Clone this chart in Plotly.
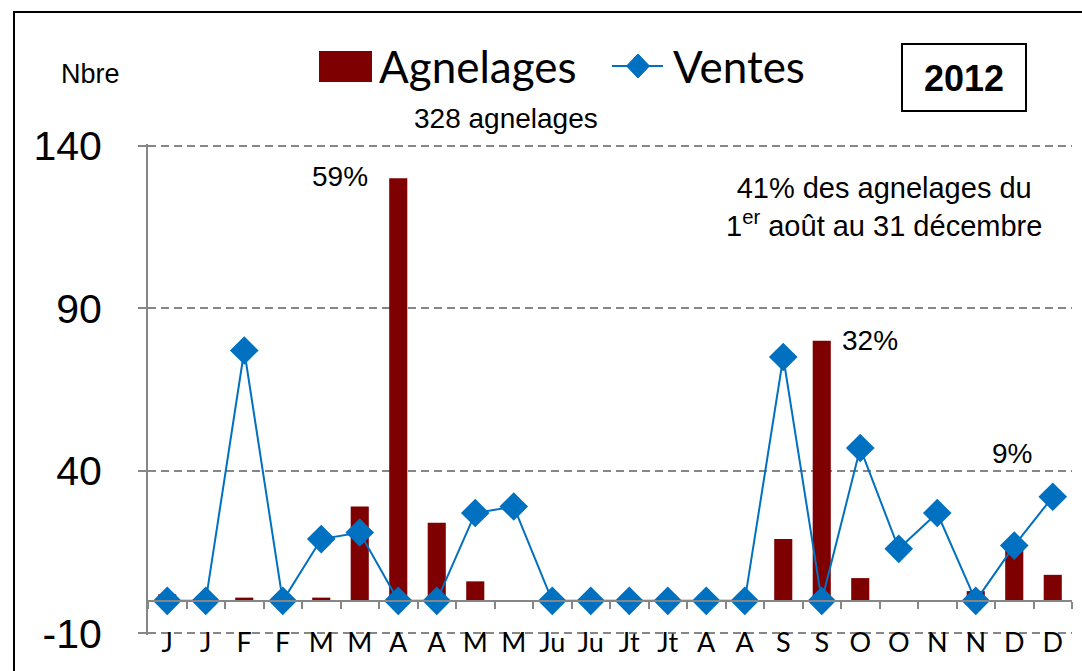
import plotly.graph_objects as go

# ---------------- data ----------------
categories = ["J1", "J2", "F1", "F2", "M1", "M2", "A1", "A2", "Ma1", "Ma2",
              "Ju1", "Ju2", "Jt1", "Jt2", "Ao1", "Ao2", "S1", "S2", "O1", "O2",
              "N1", "N2", "D1", "D2"]
tick_labels = ["J", "J", "F", "F", "M", "M", "A", "A", "M", "M", "Ju", "Ju",
               "Jt", "Jt", "A", "A", "S", "S", "O", "O", "N", "N", "D", "D"]
agnelages = [2, 0, 1, 0, 1, 29, 130, 24, 6, 0, 0, 0, 0, 0, 0, 0, 19, 80, 7, 0, 0, 3, 18, 8]
ventes = [0, 0, 77, 0, 19, 21, 0, 0, 27, 29, 0, 0, 0, 0, 0, 0, 75, 0, 47, 16, 27, 0, 17, 32]
y_ticks = [-10, 40, 90, 140]
y_tick_labels = ["-10", "40", "90", "140"]
y_range = [-10.5, 140.5]

# ---------------- layout helpers (pixel -> paper) ----------------
W, H = 1082, 671
ML, MR, MT, MB = 148, 10, 144, 36
PW, PH = W - ML - MR, H - MT - MB


def px(x):
    return (x - ML) / PW


def py(y):
    return (H - MB - y) / PH


ARIAL = "Arial, Liberation Sans, sans-serif"
CALI = "Lato, Open Sans, sans-serif"
RED = "#7F0000"
BLUE = "#0070C0"
GRAY = "#868686"

fig = go.Figure()
fig.add_trace(go.Bar(x=categories, y=agnelages, name="Agnelages",
                     marker=dict(color=RED, line=dict(width=0)), width=0.47))
fig.add_trace(go.Scatter(x=categories, y=ventes, name="Ventes", mode="lines+markers",
                         line=dict(color=BLUE, width=2),
                         marker=dict(symbol="diamond", size=22, color=BLUE)))

shapes = []
# outer frame
shapes.append(dict(type="rect", xref="paper", yref="paper",
                   x0=px(14), x1=px(1110), y0=py(700), y1=py(12),
                   line=dict(color="black", width=2), fillcolor="rgba(0,0,0,0)", layer="above"))
# 2012 box
shapes.append(dict(type="rect", xref="paper", yref="paper",
                   x0=px(902), x1=px(1026), y0=py(111), y1=py(44),
                   line=dict(color="black", width=2), fillcolor="white"))
# legend: Agnelages swatch
shapes.append(dict(type="rect", xref="paper", yref="paper",
                   x0=px(319), x1=px(372), y0=py(82), y1=py(51),
                   line=dict(width=0), fillcolor=RED))
# legend: Ventes line + diamond
shapes.append(dict(type="line", xref="paper", yref="paper",
                   x0=px(612), x1=px(663), y0=py(66), y1=py(66),
                   line=dict(color=BLUE, width=2)))
cx, cy, hw, hh = 638, 66, 11.5, 12
diamond = "M {} {} L {} {} L {} {} L {} {} Z".format(
    px(cx - hw), py(cy), px(cx), py(cy - hh), px(cx + hw), py(cy), px(cx), py(cy + hh))
shapes.append(dict(type="path", xref="paper", yref="paper", path=diamond,
                   fillcolor=BLUE, line=dict(color=BLUE, width=1)))

annotations = [
    dict(text="Agnelages", x=px(377), y=py(66), xanchor="left", yanchor="middle",
         font=dict(family=CALI, size=44, color="black")),
    dict(text="Ventes", x=px(671), y=py(66), xanchor="left", yanchor="middle",
         font=dict(family=CALI, size=44, color="black")),
    dict(text="<b>2012</b>", x=px(964), y=py(78), xanchor="center", yanchor="middle",
         font=dict(family=ARIAL, size=36, color="black")),
    dict(text="Nbre", x=px(90), y=py(74), xanchor="center", yanchor="middle",
         font=dict(family=ARIAL, size=27, color="black")),
    dict(text="328 agnelages", x=px(506), y=py(119), xanchor="center", yanchor="middle",
         font=dict(family=ARIAL, size=28, color="black")),
    dict(text="59%", x=px(340), y=py(177), xanchor="center", yanchor="middle",
         font=dict(family=ARIAL, size=28, color="black")),
    dict(text="41% des agnelages du<br>1<sup>er</sup> août au 31 décembre",
         x=px(884), y=py(207), xanchor="center", yanchor="middle", align="center",
         font=dict(family=ARIAL, size=29, color="black")),
    dict(text="32%", x=px(870), y=py(340), xanchor="center", yanchor="middle",
         font=dict(family=ARIAL, size=28, color="black")),
    dict(text="9%", x=px(1012), y=py(453), xanchor="center", yanchor="middle",
         font=dict(family=ARIAL, size=28, color="black")),
]
for a in annotations:
    a.update(xref="paper", yref="paper", showarrow=False)

zero_pos = (0 - y_range[0]) / (y_range[1] - y_range[0])

fig.update_layout(
    width=W, height=H,
    margin=dict(l=ML, r=MR, t=MT, b=MB, pad=0),
    paper_bgcolor="white", plot_bgcolor="white",
    showlegend=False,
    bargap=0.5,
    shapes=shapes,
    annotations=annotations,
    xaxis=dict(type="category", categoryorder="array", categoryarray=categories,
               range=[-0.5, len(categories) - 0.5], autorange=False,
               tickmode="array", tickvals=categories, ticktext=tick_labels,
               tickson="boundaries", ticks="outside", ticklen=7, tickwidth=2, tickcolor=GRAY,
               showline=True, linecolor=GRAY, linewidth=2,
               anchor="free", position=zero_pos,
               ticklabelstandoff=18,
               showgrid=False, zeroline=False,
               tickfont=dict(family=CALI, size=27, color="black")),
    yaxis=dict(range=y_range, autorange=False, tickmode="array", tickvals=y_ticks,
               ticktext=y_tick_labels,
               ticks="outside", ticklen=8, tickwidth=2, tickcolor=GRAY,
               showline=True, linecolor=GRAY, linewidth=2,
               showgrid=True, gridcolor=GRAY, gridwidth=1.5, griddash="8px,5px",
               zeroline=False, ticklabelstandoff=28,
               tickfont=dict(family=ARIAL, size=41, color="black")),
)

fig.write_html("out.html", config={"displayModeBar": False},
               post_script="document.body.style.margin='0';document.body.style.overflow='hidden';")
